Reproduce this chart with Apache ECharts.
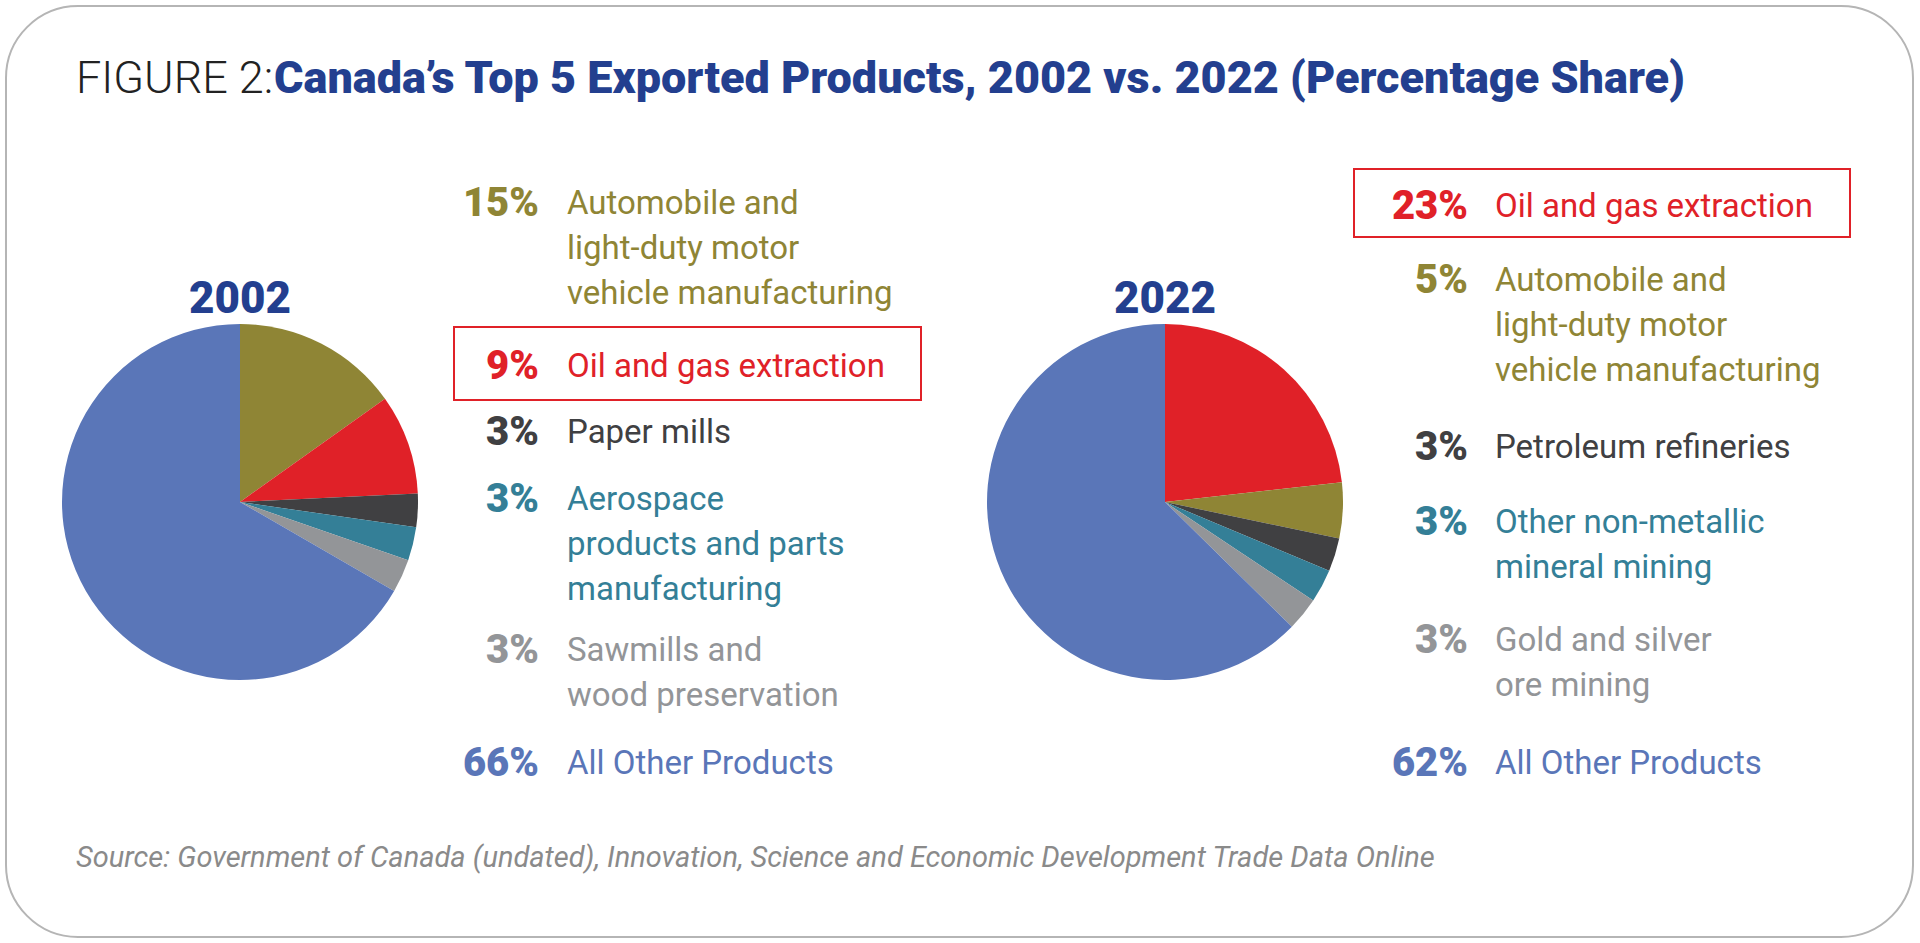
<!DOCTYPE html>
<html>
<head>
<meta charset="utf-8">
<script src="https://cdn.jsdelivr.net/npm/echarts@6/dist/echarts.min.js"></script>
<style>
  html, body { margin: 0; padding: 0; background: #fff; }
  #chart { width: 1920px; height: 943px; }
</style>
</head>
<body>
<div id="chart"></div>
<script>
// 数据
var names2002 = ['Automobile and light-duty motor vehicle manufacturing', 'Oil and gas extraction', 'Paper mills', 'Aerospace products and parts manufacturing', 'Sawmills and wood preservation', 'All Other Products']
var values2002 = [15, 9, 3, 3, 3, 66]
var colors2002 = ['#8f8535', '#e02128', '#404042', '#347f97', '#939598', '#5a76b8']
var lines2002 = [['Automobile and', 'light-duty motor', 'vehicle manufacturing'], ['Oil and gas extraction'], ['Paper mills'], ['Aerospace', 'products and parts', 'manufacturing'], ['Sawmills and', 'wood preservation'], ['All Other Products']]

var names2022 = ['Oil and gas extraction', 'Automobile and light-duty motor vehicle manufacturing', 'Petroleum refineries', 'Other non-metallic mineral mining', 'Gold and silver ore mining', 'All Other Products']
var values2022 = [23, 5, 3, 3, 3, 62]
var colors2022 = ['#e02128', '#8f8535', '#404042', '#347f97', '#939598', '#5a76b8']
var lines2022 = [['Oil and gas extraction'], ['Automobile and', 'light-duty motor', 'vehicle manufacturing'], ['Petroleum refineries'], ['Other non-metallic', 'mineral mining'], ['Gold and silver', 'ore mining'], ['All Other Products']]

var myChart = echarts.init(document.getElementById('chart'), null, { renderer: 'svg' })
var font = 'Roboto, "Noto Sans", sans-serif'

// 图例文字
function legendBlock(lines, values, colors, rowY, pctX, textX) {
  var els = []
  lines.forEach(function(ls, i) {
    els.push({
      type: 'text', x: pctX, y: rowY[i],
      style: { text: values[i] + '%', fill: colors[i], font: '900 40px ' + font, textAlign: 'right', textVerticalAlign: 'middle' }
    })
    ls.forEach(function(t, j) {
      els.push({
        type: 'text', x: textX, y: rowY[i] + j * 45,
        style: { text: t, fill: colors[i], font: '33px ' + font, textAlign: 'left', textVerticalAlign: 'middle' }
      })
    })
  })
  return els
}

var graphic = [
  { type: 'rect', shape: { x: 6, y: 6, width: 1907, height: 931, r: 72 }, style: { fill: 'none', stroke: '#b5b5b5', lineWidth: 2 } },
  { type: 'text', x: 76, y: 100, style: { text: 'FIGURE 2:', fill: '#222', font: '300 45px ' + font, textVerticalAlign: 'bottom' } },
  { type: 'text', x: 274, y: 100, style: { text: 'Canada\u2019s Top 5 Exported Products, 2002 vs. 2022 (Percentage Share)', fill: '#233f8f', font: '900 45px ' + font, textVerticalAlign: 'bottom', letterSpacing: 1 } },
  { type: 'text', x: 240, y: 298, style: { text: '2002', fill: '#233f8f', font: '900 44px ' + font, textAlign: 'center', textVerticalAlign: 'middle' } },
  { type: 'text', x: 1165, y: 298, style: { text: '2022', fill: '#233f8f', font: '900 44px ' + font, textAlign: 'center', textVerticalAlign: 'middle' } },
  { type: 'rect', shape: { x: 454, y: 327, width: 467, height: 73 }, style: { fill: 'none', stroke: '#e02128', lineWidth: 2 } },
  { type: 'rect', shape: { x: 1354, y: 169, width: 496, height: 68 }, style: { fill: 'none', stroke: '#e02128', lineWidth: 2 } },
  { type: 'text', x: 76, y: 857, style: { text: 'Source: Government of Canada (undated), Innovation, Science and Economic Development Trade Data Online', fill: '#8a8a8a', font: 'italic 29px ' + font, textVerticalAlign: 'middle' } }
]
graphic = graphic
  .concat(legendBlock(lines2002, values2002, colors2002, [202, 365, 431, 498, 649, 762], 539, 567))
  .concat(legendBlock(lines2022, values2022, colors2022, [205, 279, 446, 521, 639, 762], 1468, 1495))

function pieData(names, values, colors) {
  return values.map(function(v, i) {
    return { name: names[i], value: v, itemStyle: { color: colors[i] } }
  })
}

var option = {
  backgroundColor: '#fff',
  animation: false,
  graphic: graphic,
  series: [
    {
      type: 'pie', radius: 178, center: [240, 502], startAngle: 90, clockwise: true,
      label: { show: false }, labelLine: { show: false }, silent: true,
      data: pieData(names2002, values2002, colors2002)
    },
    {
      type: 'pie', radius: 178, center: [1165, 502], startAngle: 90, clockwise: true,
      label: { show: false }, labelLine: { show: false }, silent: true,
      data: pieData(names2022, values2022, colors2022)
    }
  ]
}

option && myChart.setOption(option)
</script>
</body>
</html>
